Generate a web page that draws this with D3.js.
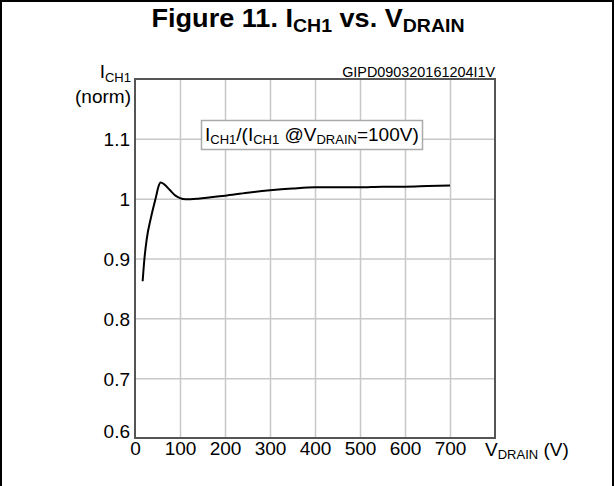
<!DOCTYPE html>
<html>
<head>
<meta charset="utf-8">
<script src="https://cdn.jsdelivr.net/npm/d3@7"></script>
<style>
  body { margin: 0; background: #fff; }
  svg text { font-family: "Liberation Sans", Arial, sans-serif; fill: #000; }
</style>
</head>
<body>
<svg id="chart" width="615" height="486"></svg>
<script>
// values
const vDrain = [17, 21, 26, 36, 47, 52, 57, 65, 78, 90, 100, 112, 140, 200, 250, 300, 350, 400, 450, 500, 550, 600, 650, 700];
const iNorm  = [0.862, 0.9, 0.932, 0.97, 1.004, 1.02, 1.027, 1.024, 1.014, 1.005, 1.001, 0.999, 1.0, 1.005, 1.01, 1.014, 1.017, 1.019, 1.019, 1.019, 1.02, 1.02, 1.021, 1.022];
const xTicks = [0, 100, 200, 300, 400, 500, 600, 700];
const yTicks = [0.6, 0.7, 0.8, 0.9, 1, 1.1];

const dataset = vDrain.map((v, i) => ({ v: v, i: iNorm[i] }));

const margin = { top: 79, right: 120, bottom: 48, left: 135 };
const width = 615 - margin.left - margin.right;
const height = 486 - margin.top - margin.bottom;

const xScale = d3.scaleLinear().domain([0, 800]).range([0, width]);
const yScale = d3.scaleLinear().domain([0.6, 1.2]).range([height, 0]);

const root = d3.select('#chart');

// outer frame
root.append('rect')
    .attr('x', 1).attr('y', 1)
    .attr('width', 612).attr('height', 500)
    .attr('fill', 'none')
    .attr('stroke', '#000')
    .attr('stroke-width', 2);

// title
const title = root.append('text')
    .attr('x', 308).attr('y', 27)
    .attr('text-anchor', 'middle')
    .attr('textLength', 313)
    .attr('lengthAdjust', 'spacingAndGlyphs')
    .style('font-size', '25px')
    .style('font-weight', 'bold');
title.append('tspan').text('Figure 11. I');
title.append('tspan').attr('dy', 5).style('font-size', '18px').text('CH1');
title.append('tspan').attr('dy', -5).text(' vs. V');
title.append('tspan').attr('dy', 5).style('font-size', '18px').text('DRAIN');

const svg = root.append('g')
    .attr('transform', 'translate(' + margin.left + ',' + margin.top + ')');

// grid
svg.append('g')
    .attr('class', 'x grid')
    .attr('transform', 'translate(0,' + height + ')')
    .call(d3.axisBottom(xScale).tickValues(xTicks.slice(1)).tickSize(-height).tickFormat(''))
    .call(g => g.select('.domain').remove())
    .call(g => g.selectAll('line').attr('stroke', '#c8c8c8').attr('stroke-width', 1.5));

svg.append('g')
    .attr('class', 'y grid')
    .call(d3.axisLeft(yScale).tickValues(yTicks.slice(1)).tickSize(-width).tickFormat(''))
    .call(g => g.select('.domain').remove())
    .call(g => g.selectAll('line').attr('stroke', '#c8c8c8').attr('stroke-width', 1.5));

// plot frame
svg.append('rect')
    .attr('width', width).attr('height', height)
    .attr('fill', 'none')
    .attr('stroke', '#555')
    .attr('stroke-width', 2);

// tick labels
const xAxis = svg.append('g')
    .attr('class', 'x axis')
    .attr('transform', 'translate(0,' + height + ')')
    .call(d3.axisBottom(xScale).tickValues(xTicks).tickSize(0).tickPadding(4).tickFormat(d3.format('d')));
xAxis.select('.domain').remove();
xAxis.selectAll('text')
    .attr('fill', '#000')
    .style('font-size', '19px')
    .style('font-family', '"Liberation Sans", Arial, sans-serif');

const yAxis = svg.append('g')
    .attr('class', 'y axis')
    .call(d3.axisLeft(yScale).tickValues(yTicks).tickSize(0).tickPadding(5).tickFormat(d => d === 1 ? '1' : d3.format('.1f')(d)));
yAxis.select('.domain').remove();
yAxis.selectAll('text')
    .attr('fill', '#000')
    .style('font-size', '19px')
    .style('font-family', '"Liberation Sans", Arial, sans-serif')
    .attr('dy', d => d === 0.6 ? '-0.02em' : '0.36em');

// axis titles
const yTitle = svg.append('text')
    .attr('x', -4).attr('y', -1)
    .attr('text-anchor', 'end')
    .style('font-size', '19px');
yTitle.append('tspan').text('I');
yTitle.append('tspan').attr('dy', 4).style('font-size', '13px').text('CH1');
svg.append('text')
    .attr('x', -4).attr('y', 24)
    .attr('text-anchor', 'end')
    .style('font-size', '19px')
    .text('(norm)');

const xTitle = svg.append('text')
    .attr('x', 350).attr('y', height + 18)
    .style('font-size', '19px');
xTitle.append('tspan').text('V');
xTitle.append('tspan').attr('dy', 3).style('font-size', '13px').text('DRAIN');
xTitle.append('tspan').attr('dy', -3).text(' (V)');

// drawing code
svg.append('text')
    .attr('x', width).attr('y', -2)
    .attr('text-anchor', 'end')
    .style('font-size', '14.4px')
    .text('GIPD090320161204I1V');

// legend box
svg.append('rect')
    .attr('x', 66.5).attr('y', 41.5)
    .attr('width', 221).attr('height', 29)
    .attr('fill', '#fff')
    .attr('stroke', '#aaa')
    .attr('stroke-width', 1.5);
const leg = svg.append('text')
    .attr('x', 70).attr('y', 62)
    .style('font-size', '19px');
leg.append('tspan').text('I');
leg.append('tspan').attr('dy', 3).style('font-size', '13px').text('CH1');
leg.append('tspan').attr('dy', -3).text('/(I');
leg.append('tspan').attr('dy', 3).style('font-size', '13px').text('CH1');
leg.append('tspan').attr('dy', -3).text(' @V');
leg.append('tspan').attr('dy', 3).style('font-size', '13px').text('DRAIN');
leg.append('tspan').attr('dy', -3).text('=100V)');

// curve
const line = d3.line()
    .x(d => xScale(d.v))
    .y(d => yScale(d.i))
    .curve(d3.curveMonotoneX);

svg.append('path')
    .datum(dataset)
    .attr('fill', 'none')
    .attr('stroke', '#000')
    .attr('stroke-width', 2)
    .attr('d', line);
</script>
</body>
</html>
